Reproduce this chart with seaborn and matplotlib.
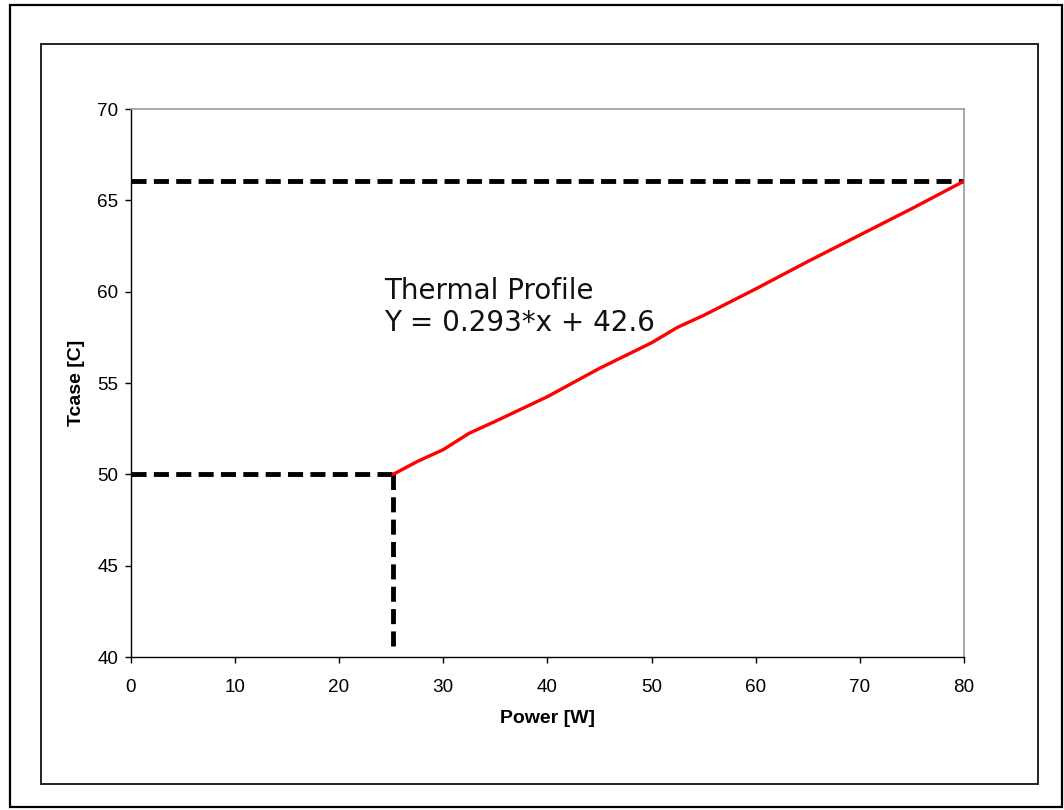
import matplotlib
matplotlib.use("Agg")
import matplotlib.pyplot as plt
import seaborn as sns
import pandas as pd
from matplotlib.patches import Rectangle

# Thermal profile: case temperature vs. power
power_w = [25.2, 27.5, 30.0, 32.5, 35.0, 40.0, 45.0, 50.0, 52.5, 55.0, 60.0, 65.0, 70.0, 75.0, 80.0]
tcase_c = [50.0, 50.7, 51.35, 52.25, 52.9, 54.25, 55.8, 57.2, 58.05, 58.7, 60.15, 61.65, 63.1, 64.55, 66.05]

# Reference guide levels
t_min, t_max = 50.0, 66.05
p_min, p_max = 25.2, 80.0
t_floor = 40.6

x_ticks = [0, 10, 20, 30, 40, 50, 60, 70, 80]
y_ticks = [40, 45, 50, 55, 60, 65, 70]

sns.set_style("white")
plt.rcParams["font.family"] = ["Liberation Sans", "DejaVu Sans"]

W, H = 1064, 810
fig = plt.figure(figsize=(W / 100, H / 100), dpi=100)

# Outer frame and chart-area frame
fig.patches.append(Rectangle((10 / W, 1 - 807 / H), 1052 / W, 802 / H,
                             transform=fig.transFigure, fill=False,
                             edgecolor="black", linewidth=1.6))
fig.patches.append(Rectangle((41 / W, 1 - 784 / H), 997 / W, 740 / H,
                             transform=fig.transFigure, fill=False,
                             edgecolor="#222222", linewidth=1.4))

ax = fig.add_axes([130.7 / W, 1 - 657 / H, (964 - 130.7) / W, (657 - 109) / H])

df = pd.DataFrame({"Power": power_w, "Tcase": tcase_c})
sns.lineplot(data=df, x="Power", y="Tcase", ax=ax, color="#ff0000",
             linewidth=2.4, sort=False, zorder=3)

dash = (0, (3.1, 1.5))
lw_dash = 3.5
ax.plot([0, p_max], [t_max, t_max], color="black", linewidth=lw_dash, linestyle=dash, zorder=2)
ax.plot([0, p_min], [t_min, t_min], color="black", linewidth=lw_dash, linestyle=dash, zorder=2)
ax.plot([p_min, p_min], [t_floor, t_min], color="black", linewidth=lw_dash, linestyle=dash, zorder=2)

ax.set_xlim(0, 80)
ax.set_ylim(40, 70)
ax.set_xticks(x_ticks)
ax.set_yticks(y_ticks)
ax.tick_params(axis="both", direction="out", length=4, width=1, color="black",
               labelsize=13.6, labelcolor="black", bottom=True, left=True)
ax.tick_params(axis="x", pad=12)
ax.tick_params(axis="y", pad=5)

for side in ("left", "bottom"):
    ax.spines[side].set_color("black")
    ax.spines[side].set_linewidth(1.0)
for side in ("top", "right"):
    ax.spines[side].set_visible(True)
    ax.spines[side].set_color("#999999")
    ax.spines[side].set_linewidth(1.2)

ax.set_xlabel("Power [W]", fontsize=14, fontweight="bold", color="black", labelpad=10)
ax.set_ylabel("Tcase [C]", fontsize=14, fontweight="bold", color="black", labelpad=9)

ax.text(24.3, 60.8, "Thermal Profile\nY = 0.293*x + 42.6", fontsize=20,
        family=["DejaVu Sans"], color="#111111", ha="left", va="top",
        linespacing=1.2)

fig.savefig("out.png", dpi=100, facecolor="white")
